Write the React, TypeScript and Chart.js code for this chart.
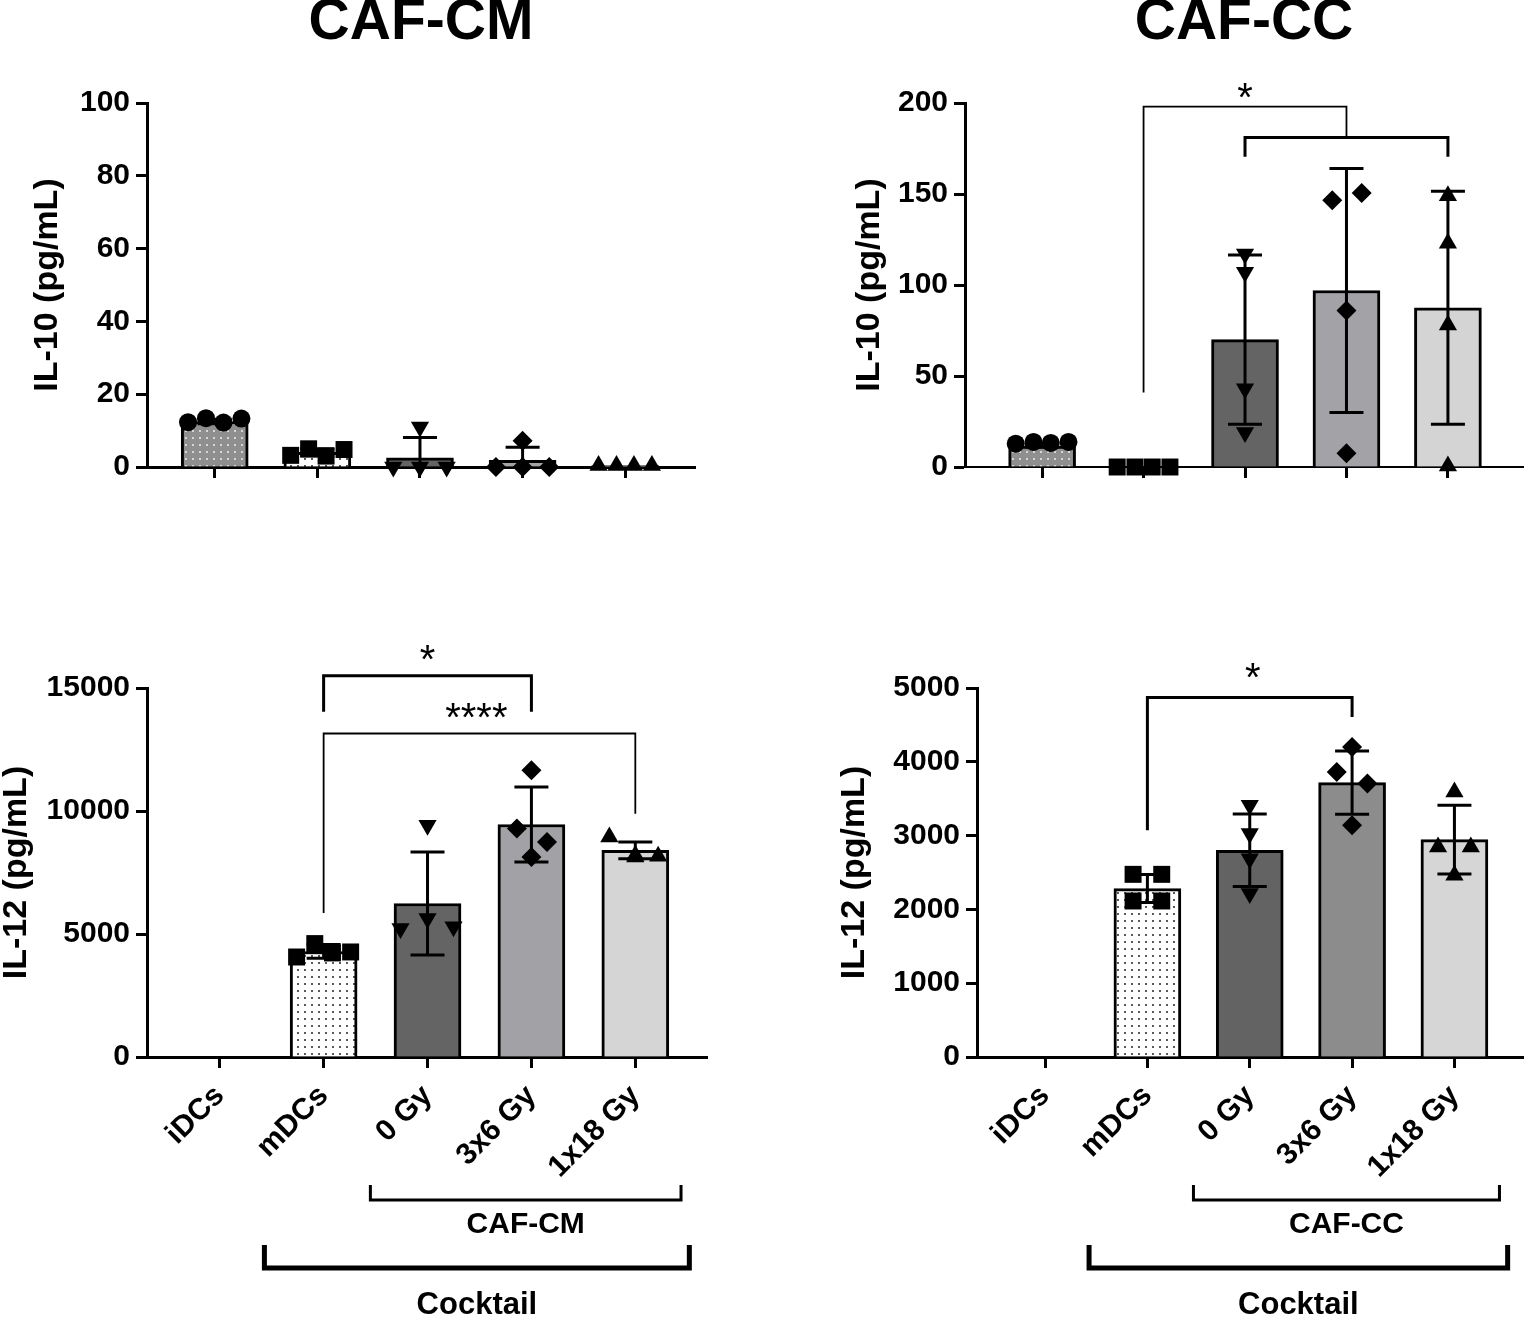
import { useEffect, useRef } from "react";
import { Chart, registerables, type Plugin } from "chart.js";

Chart.register(...registerables);

const FONT = "'Liberation Sans', Arial, Helvetica, sans-serif";
Chart.defaults.font.family = FONT;
Chart.defaults.color = "#000";

const CATEGORIES = ["iDCs", "mDCs", "0 Gy", "3x6 Gy", "1x18 Gy"];
const POINT_STYLES = ["circle", "rect", "triangle", "rectRot", "triangle"];
const POINT_ROTATION = [0, 0, 180, 0, 0];
const POINT_RADIUS = [9, 12, 10.5, 10, 10.5];

// IL-10, CAF-CM
const IL10_CM_MEAN = [12.5, 4.0, 2.5, 1.8, 0.4];
const IL10_CM_SD = [0.6, 1.0, 5.6, 3.6, 0];
const IL10_CM_POINTS = [
  [12.3, 13.4, 12.2, 13.3],
  [3.2, 5.0, 3.0, 4.8],
  [0, 11, 0, 0],
  [0, 7.2, 0, 0],
  [0.4, 0.4, 0.4, 0.4],
];

// IL-10, CAF-CC
const IL10_CC_MEAN = [11.5, 0, 70, 97, 87.5];
const IL10_CC_SD = [0.5, 0, 46.5, 67, 64];
const IL10_CC_POINTS = [
  [12.8, 13.8, 13.2, 13.8],
  [0, 0, 0, 0],
  [117, 107, 43, 19],
  [146.5, 150.5, 86, 7.5],
  [149, 123, 78, 0.5],
];

// IL-12, CAF-CM (iDCs not detected)
const IL12_CM_MEAN = [null, 4290, 6240, 9450, 8400];
const IL12_CM_SD = [null, 280, 2090, 1525, 340];
const IL12_CM_POINTS = [
  [],
  [4065, 4610, 4230, 4270],
  [5220, 9420, 5630, 5290],
  [9285, 11655, 8742, 8130],
  [8130, 8943, 8200, 8160],
];

// IL-12, CAF-CC (iDCs not detected)
const IL12_CC_MEAN = [null, 2282, 2801, 3718, 2946];
const IL12_CC_SD = [null, 190, 490, 430, 465];
const IL12_CC_POINTS = [
  [],
  [2475, 2475, 2114, 2114],
  [3410, 3027, 2688, 2214],
  [4200, 3862, 3705, 3140],
  [3591, 2846, 2846, 2462],
];

type Bracket = { from: number; to: number; top: number; fromEnd: number; toEnd: number; width: number };
type Star = { x: number; y: number; text: string };
type Group = { label: string; from: number; to: number };

const IL10_CC_BRACKETS: Bracket[] = [
  { from: 1, to: 3, top: 198, fromEnd: 41, toEnd: 181, width: 1.8 },
  { from: 2, to: 4, top: 181, fromEnd: 170.5, toEnd: 170.5, width: 3 },
];
const IL10_CC_STARS: Star[] = [{ x: 2, y: 205, text: "*" }];

const IL12_CM_BRACKETS: Bracket[] = [
  { from: 1, to: 3, top: 15500, fromEnd: 14030, toEnd: 14030, width: 3 },
  { from: 1, to: 4, top: 13150, fromEnd: 5850, toEnd: 9890, width: 1.8 },
];
const IL12_CM_STARS: Star[] = [
  { x: 2, y: 16330, text: "*" },
  { x: 2.47, y: 13970, text: "****" },
];

const IL12_CC_BRACKETS: Bracket[] = [
  { from: 1, to: 3, top: 4870, fromEnd: 3072, toEnd: 4607, width: 3 },
];
const IL12_CC_STARS: Star[] = [{ x: 2.03, y: 5195, text: "*" }];

const CM_GROUPS: Group[] = [
  { label: "CAF-CM", from: 2, to: 4 },
  { label: "Cocktail", from: 1, to: 4 },
];
const CC_GROUPS: Group[] = [
  { label: "CAF-CC", from: 2, to: 4 },
  { label: "Cocktail", from: 1, to: 4 },
];

// horizontal spread of replicate symbols, in category widths
const SPREAD = [-0.26, -0.085, 0.085, 0.26];
const CENTER = [0, 0, 0, 0];
const JITTER_IL10_CM = [SPREAD, SPREAD, [-0.26, 0, 0, 0.26], [-0.26, 0, 0, 0.26], SPREAD];
const JITTER_IL10_CC = [SPREAD, SPREAD, CENTER, [-0.14, 0.15, 0, 0], CENTER];
const JITTER_IL12_CM = [CENTER, SPREAD, [-0.26, 0, 0, 0.25], [-0.14, 0, 0.15, 0], [0, -0.25, 0, 0.22]];
const JITTER_IL12_CC = [CENTER, [-0.14, 0.14, -0.14, 0.14], CENTER, [0, -0.15, 0.15, 0], [0, -0.16, 0.16, 0]];

// group brackets below the axis (offsets in px from the axis line)
const GROUP_STYLE = [
  { bar: 143, up: 15, width: 3, label: 168, size: 30, left: 0.55, right: 0.44 },
  { bar: 211, up: 23, width: 5, label: 248, size: 31, left: 0.57, right: 0.52 },
];

function dotPattern(bg: string, dot: string): CanvasPattern | string {
  const tile = document.createElement("canvas");
  tile.width = 7;
  tile.height = 7;
  const c = tile.getContext("2d");
  if (!c) return bg;
  c.fillStyle = bg;
  c.fillRect(0, 0, 7, 7);
  c.fillStyle = dot;
  c.fillRect(3, 3, 2, 2);
  return c.createPattern(tile, "repeat") ?? bg;
}

interface PanelProps {
  box: { left: number; top: number; width: number; height: number };
  padding: { top: number; right: number };
  yWidth: number;
  xHeight: number;
  xMin: number;
  xMax: number;
  title?: string;
  yTitle: string;
  yTitlePad: number;
  yMax: number;
  yStep: number;
  means: (number | null)[];
  sds: (number | null)[];
  points: number[][];
  jitter: number[][];
  fills: string[];
  brackets: Bracket[];
  stars: Star[];
  groups: Group[];
  showLabels: boolean;
  dashedBase?: boolean;
}

const Panel = (p: PanelProps) => {
  const canvasRef = useRef<HTMLCanvasElement | null>(null);

  useEffect(() => {
    if (!canvasRef.current) return;
    const fills = p.fills.map((f) =>
      f === "dots-gray" ? dotPattern("#8f8f8f", "#d6d6d6") : f === "dots-white" ? dotPattern("#ffffff", "#5a5a5a") : f
    );

    const errorBars: Plugin<"bar"> = {
      id: "errorBars",
      afterDatasetDraw(chart, args) {
        if (args.index !== 0) return;
        const { ctx } = chart;
        const x = chart.scales.x;
        const y = chart.scales.y;
        ctx.save();
        ctx.strokeStyle = "#000";
        ctx.lineWidth = 3;
        p.means.forEach((m, i) => {
          const sd = p.sds[i];
          if (m === null || !sd) return;
          const cx = x.getPixelForValue(i);
          const hi = y.getPixelForValue(m + sd);
          const loVal = m - sd;
          const lo = y.getPixelForValue(Math.max(loVal, y.min));
          ctx.beginPath();
          ctx.moveTo(cx, lo);
          ctx.lineTo(cx, hi);
          ctx.moveTo(cx - 17, hi);
          ctx.lineTo(cx + 17, hi);
          if (loVal > y.min) {
            ctx.moveTo(cx - 17, lo);
            ctx.lineTo(cx + 17, lo);
          }
          ctx.stroke();
        });
        ctx.restore();
      },
    };

    const annotations: Plugin<"bar"> = {
      id: "annotations",
      afterDraw(chart) {
        const { ctx, chartArea } = chart;
        const x = chart.scales.x;
        const y = chart.scales.y;
        ctx.save();
        ctx.strokeStyle = "#000";
        ctx.fillStyle = "#000";
        p.brackets.forEach((b) => {
          ctx.lineWidth = b.width;
          ctx.beginPath();
          ctx.moveTo(x.getPixelForValue(b.from), y.getPixelForValue(b.fromEnd));
          ctx.lineTo(x.getPixelForValue(b.from), y.getPixelForValue(b.top));
          ctx.lineTo(x.getPixelForValue(b.to), y.getPixelForValue(b.top));
          ctx.lineTo(x.getPixelForValue(b.to), y.getPixelForValue(b.toEnd));
          ctx.stroke();
        });
        ctx.font = `40px ${FONT}`;
        ctx.textAlign = "center";
        ctx.textBaseline = "alphabetic";
        p.stars.forEach((s) => {
          ctx.fillText(s.text, x.getPixelForValue(s.x), y.getPixelForValue(s.y) + 17.5);
        });
        const step = x.getPixelForValue(1) - x.getPixelForValue(0);
        p.groups.forEach((g, k) => {
          const st = GROUP_STYLE[k];
          const l = x.getPixelForValue(g.from) - st.left * step;
          const r = x.getPixelForValue(g.to) + st.right * step;
          const by = chartArea.bottom + st.bar;
          ctx.lineWidth = st.width;
          ctx.beginPath();
          ctx.moveTo(l, by - st.up);
          ctx.lineTo(l, by);
          ctx.lineTo(r, by);
          ctx.lineTo(r, by - st.up);
          ctx.stroke();
          ctx.font = `bold ${st.size}px ${FONT}`;
          ctx.textBaseline = "middle";
          ctx.fillText(g.label, (l + r) / 2, chartArea.bottom + st.label);
        });
        ctx.restore();
      },
    };

    const chart = new Chart(canvasRef.current, {
      type: "bar",
      data: {
        datasets: [
          {
            type: "bar",
            data: p.means.map((m, i) => ({ x: i, y: m })) as any,
            backgroundColor: fills as any,
            borderColor: "#000",
            borderWidth: 3,
            barThickness: 67,
            order: 2,
          },
          ...p.points.map((vals, i) => ({
            type: "scatter" as const,
            data: vals.map((v, k) => ({ x: i + p.jitter[i][k], y: v })),
            pointStyle: POINT_STYLES[i] as any,
            pointRotation: POINT_ROTATION[i],
            pointRadius: POINT_RADIUS[i],
            pointBackgroundColor: "#000",
            pointBorderColor: "#000",
            pointBorderWidth: 0,
            showLine: false,
            clip: false as any,
            order: 1,
          })),
        ] as any,
      },
      options: {
        animation: false,
        responsive: true,
        maintainAspectRatio: false,
        events: [],
        layout: { padding: { top: p.padding.top, right: p.padding.right, left: 0, bottom: 0 } },
        plugins: {
          legend: { display: false },
          tooltip: { enabled: false },
          title: {
            display: !!p.title,
            text: p.title ?? "",
            fullSize: false,
            color: "#000",
            font: { size: 57, weight: "bold", lineHeight: 0.8 },
            padding: { top: 0, bottom: 57.4 },
          },
        },
        scales: {
          x: {
            type: "linear",
            min: p.xMin,
            max: p.xMax,
            offset: false,
            afterBuildTicks: (scale) => {
              scale.ticks = CATEGORIES.map((_, i) => ({ value: i }));
            },
            afterFit: (scale) => {
              scale.height = p.xHeight;
            },
            grid: {
              offset: false,
              drawOnChartArea: false,
              drawTicks: true,
              tickLength: 11,
              tickWidth: 3,
              tickColor: "#000",
            },
            border: {
              display: true,
              color: "#000",
              width: p.dashedBase ? 2 : 3,
              dash: p.dashedBase ? [4, 3] : [],
            },
            ticks: {
              display: p.showLabels,
              autoSkip: false,
              minRotation: 45,
              maxRotation: 45,
              padding: 22,
              color: "#000",
              font: { size: 30, weight: "bold", lineHeight: 0.1 },
              callback: (v) => CATEGORIES[Math.round(Number(v))] ?? "",
            },
          },
          y: {
            type: "linear",
            min: 0,
            max: p.yMax,
            afterFit: (scale) => {
              scale.width = p.yWidth;
            },
            grid: {
              drawOnChartArea: false,
              drawTicks: true,
              tickLength: 11,
              tickWidth: 3,
              tickColor: "#000",
            },
            border: { display: true, color: "#000", width: 3 },
            ticks: {
              stepSize: p.yStep,
              padding: 6,
              color: "#000",
              font: { size: 30, weight: "bold" },
              callback: (v) => String(v),
            },
            title: {
              display: true,
              text: p.yTitle,
              color: "#000",
              font: { size: 34, weight: "bold", lineHeight: 1 },
              padding: { top: p.yTitlePad, bottom: 0 },
            },
          },
        },
      },
      plugins: [errorBars, annotations],
    });

    return () => {
      chart.destroy();
    };
  }, []);

  return (
    <div
      style={{
        position: "absolute",
        left: p.box.left,
        top: p.box.top,
        width: p.box.width,
        height: p.box.height,
      }}
    >
      <canvas ref={canvasRef} />
    </div>
  );
};

const TOP_FILLS = ["dots-gray", "dots-white", "#646464", "#a3a3a7", "#d4d4d4"];

export default function App() {
  return (
    <div
      style={{
        position: "absolute",
        left: 0,
        top: 0,
        width: 1535,
        height: 1318,
        overflow: "hidden",
        background: "#fff",
      }}
    >
      <Panel
        box={{ left: 0, top: 0, width: 720, height: 510 }}
        padding={{ top: 0, right: 25 }}
        yWidth={147}
        xHeight={43}
        xMin={-0.66}
        xMax={4.68}
        title="CAF-CM"
        yTitle="IL-10 (pg/mL)"
        yTitlePad={30.5}
        yMax={100}
        yStep={20}
        means={IL10_CM_MEAN}
        sds={IL10_CM_SD}
        points={IL10_CM_POINTS}
        jitter={JITTER_IL10_CM}
        fills={TOP_FILLS}
        brackets={[]}
        stars={[]}
        groups={[]}
        showLabels={false}
      />
      <Panel
        box={{ left: 820, top: 0, width: 715, height: 510 }}
        padding={{ top: 0, right: 5 }}
        yWidth={145}
        xHeight={43}
        xMin={-0.76}
        xMax={4.74}
        title="CAF-CC"
        yTitle="IL-10 (pg/mL)"
        yTitlePad={33}
        yMax={200}
        yStep={50}
        means={IL10_CC_MEAN}
        sds={IL10_CC_SD}
        points={IL10_CC_POINTS}
        jitter={JITTER_IL10_CC}
        fills={TOP_FILLS}
        brackets={IL10_CC_BRACKETS}
        stars={IL10_CC_STARS}
        groups={[]}
        showLabels={false}
        dashedBase
      />
      <Panel
        box={{ left: 0, top: 560, width: 720, height: 758 }}
        padding={{ top: 128, right: 13 }}
        yWidth={147}
        xHeight={261}
        xMin={-0.7}
        xMax={4.69}
        yTitle="IL-12 (pg/mL)"
        yTitlePad={0}
        yMax={15000}
        yStep={5000}
        means={IL12_CM_MEAN}
        sds={IL12_CM_SD}
        points={IL12_CM_POINTS}
        jitter={JITTER_IL12_CM}
        fills={["#ffffff", "dots-white", "#646464", "#a2a2a6", "#d5d5d5"]}
        brackets={IL12_CM_BRACKETS}
        stars={IL12_CM_STARS}
        groups={CM_GROUPS}
        showLabels
      />
      <Panel
        box={{ left: 820, top: 560, width: 715, height: 758 }}
        padding={{ top: 128, right: 5 }}
        yWidth={157}
        xHeight={261}
        xMin={-0.665}
        xMax={4.67}
        yTitle="IL-12 (pg/mL)"
        yTitlePad={18}
        yMax={5000}
        yStep={1000}
        means={IL12_CC_MEAN}
        sds={IL12_CC_SD}
        points={IL12_CC_POINTS}
        jitter={JITTER_IL12_CC}
        fills={["#ffffff", "dots-white", "#636363", "#8c8c8c", "#d6d6d6"]}
        brackets={IL12_CC_BRACKETS}
        stars={IL12_CC_STARS}
        groups={CC_GROUPS}
        showLabels
      />
    </div>
  );
}
